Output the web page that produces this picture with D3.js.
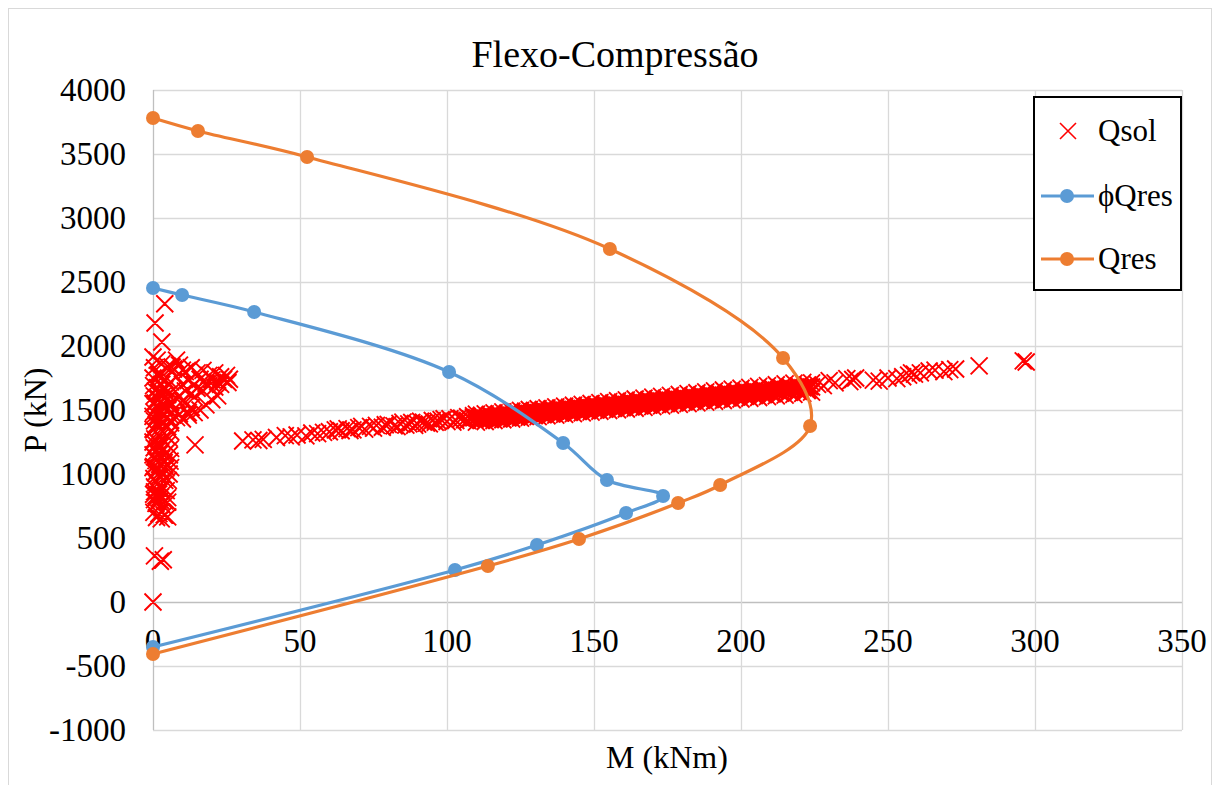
<!DOCTYPE html>
<html>
<head>
<meta charset="utf-8">
<script src="https://cdn.jsdelivr.net/npm/d3@7"></script>
<style>
  body { margin: 0; background: #fff; }
  svg { display: block; font-family: "Liberation Serif", "Times New Roman", serif; }
</style>
</head>
<body>
<div id="graphic"></div>
<script>
// resistance envelope, factored and unfactored (M in kNm, P in kN)
const qresM = [0, 15.3, 52.4, 155.4, 214.3, 223.5, 192.9, 178.6, 144.9, 113.9, 0];
const qresP = [3781, 3680, 3477, 2758, 1906, 1375, 914, 773, 492, 281, -406];
const phiM = [0, 9.9, 34.4, 100.7, 139.5, 154.4, 173.5, 160.9, 130.6, 102.7, 0];
const phiP = [2453, 2398, 2266, 1797, 1242, 953, 828, 695, 445, 250, -352];

// load cases (Qsol) in groups
const qsolLow = [[0, 0], [0.5, 360], [3.5, 330], [2.5, 318], [0.3, 700], [2, 690], [3.8, 680],
  [5, 665], [1.2, 660], [2.8, 650], [0.5, 800], [2.5, 820], [4, 790], [1, 770], [3, 760], [5, 780],
  [3, 880], [0.5, 860], [2, 845], [4.5, 870], [1, 830], [5, 815], [0.2, 842], [2.5, 795]];

const qsolSpine = [[0.5, 900], [2.5, 915], [1, 935], [4, 950], [0.3, 965], [2, 980], [3.5, 995],
  [0.8, 1010], [2.8, 1025], [1.5, 1040], [4.5, 1050], [0.2, 1060], [2.2, 1075], [3.8, 1090],
  [1, 1105], [3, 1120], [0.5, 1135], [2, 1150], [4.2, 1160], [1.2, 1175], [3.2, 1190], [0.4, 1205],
  [2.4, 1220], [4.8, 1230], [1.6, 1245], [3.5, 1260], [0.6, 1275], [2.6, 1290], [4.5, 1300],
  [1.4, 1315], [3.3, 1330], [0.2, 1345], [2.2, 1360], [5, 1370], [1, 1385], [3, 1400], [0.5, 1415],
  [2.5, 1430], [4.5, 1440], [1.5, 1455], [3.5, 1470], [0.3, 1485], [2.3, 1500], [5.2, 1510],
  [1.2, 1525], [3.2, 1540], [0.7, 1555], [2.7, 1570], [4.7, 1580], [1.7, 1595], [0.4, 1610],
  [3.7, 1620], [2, 1635], [0.8, 1650], [4, 1660], [1.5, 1675], [0.2, 1690], [3, 1700],
  [0, 1750], [2, 1780], [0.5, 1830], [1.4, 1890], [0, 1914], [8, 1890], [6.5, 1836], [10, 1812],
  [3, 2031], [0.7, 2180], [4, 2330], [14.3, 1227],
  [5.5, 1000], [5.8, 1100], [6, 1200], [5.5, 1280], [6, 1400], [5.8, 1460], [5.2, 950], [6, 1050],
  [0, 1150], [0, 1250], [0, 1550], [0, 1450], [0, 1050], [0, 1350], [6, 1330], [5.6, 1150]];

const qsolBranch = [[3, 1860], [5, 1840], [7, 1820], [9, 1850], [11, 1800], [13, 1830], [15, 1790],
  [17, 1810], [19, 1770], [21, 1790], [23, 1760], [25, 1770], [26, 1740],
  [2, 1760], [4, 1740], [6, 1720], [8, 1760], [10, 1700], [12, 1730], [14, 1700], [16, 1740],
  [18, 1710], [20, 1735], [22, 1720], [24, 1740], [25.5, 1715],
  [3, 1640], [5, 1620], [7, 1660], [9, 1610], [11, 1650], [13, 1630], [15, 1670], [17, 1650],
  [19, 1690], [21, 1680], [23, 1700], [6, 1560], [8, 1590], [10, 1570], [4, 1520], [7, 1500],
  [9, 1470], [12, 1480], [11, 1560], [14, 1600], [6, 1420], [8, 1440], [10, 1430], [12, 1460],
  [14, 1480], [16, 1500], [13, 1520], [18, 1540], [20, 1580], [22, 1610]];

const qsolBand = [[30.5, 1258], [34, 1266], [36, 1262], [37.5, 1270], [45, 1300], [47, 1290],
  [49, 1305], [52, 1298], [56, 1315], [58, 1325], [60, 1330], [62, 1345], [64, 1338], [66, 1355],
  [70, 1362], [72, 1350], [74, 1372], [76, 1380], [78, 1365], [80, 1388], [82, 1376], [84, 1395],
  [86, 1382], [88, 1402], [90, 1390], [91, 1412], [93, 1398], [95, 1418], [96, 1404], [98, 1425],
  [100, 1410], [101, 1432], [103, 1418], [104, 1440], [106, 1424], [107, 1447], [108, 1430],
  [109, 1455], [42, 1285], [54, 1320], [63, 1352], [67, 1340], [68, 1345], [71, 1372], [75, 1358],
  [79, 1385], [83, 1370], [85, 1405], [87, 1392], [89, 1380], [92, 1405], [94, 1392], [97, 1412],
  [99, 1432], [102, 1405], [105, 1436], [107, 1418], [109, 1440],
  [110, 1405], [110, 1440], [110, 1468], [111.5, 1420], [111.5, 1452], [113, 1410], [113, 1437],
  [113, 1470], [114.5, 1428], [114.5, 1458], [116, 1418], [116, 1446], [116, 1478], [117.5, 1432],
  [117.5, 1463], [119, 1424], [119, 1452], [119, 1485], [120.5, 1440], [120.5, 1470], [122, 1430],
  [122, 1460], [122, 1490], [123.5, 1446], [123.5, 1475], [125, 1436], [125, 1466], [125, 1497],
  [126.5, 1452], [126.5, 1482], [128, 1442], [128, 1473], [128, 1504], [129.5, 1458], [129.5, 1488],
  [131, 1448], [131, 1480], [131, 1510], [132.5, 1464], [132.5, 1494], [134, 1455], [134, 1486],
  [134, 1517], [135.5, 1470], [135.5, 1500], [137, 1460], [137, 1492], [137, 1524], [138.5, 1476],
  [138.5, 1507], [140, 1466], [140, 1499], [140, 1530], [141.5, 1482], [141.5, 1514], [143, 1472],
  [143, 1505], [143, 1537], [144.5, 1489], [144.5, 1520], [146, 1478], [146, 1512], [146, 1544],
  [147.5, 1495], [147.5, 1527], [149, 1484], [149, 1518], [149, 1551], [150.5, 1500], [150.5, 1534],
  [152, 1490], [152, 1524], [152, 1558], [153.5, 1507], [153.5, 1540], [155, 1496], [155, 1531],
  [155, 1565], [156.5, 1513], [156.5, 1547], [158, 1502], [158, 1537], [158, 1572], [159.5, 1519],
  [159.5, 1554], [161, 1508], [161, 1544], [161, 1579], [162.5, 1525], [162.5, 1561], [164, 1514],
  [164, 1550], [164, 1586], [165.5, 1532], [165.5, 1567], [167, 1520], [167, 1557], [167, 1593],
  [168.5, 1538], [168.5, 1574], [170, 1526], [170, 1563], [170, 1600], [171.5, 1544], [171.5, 1581],
  [173, 1532], [173, 1570], [173, 1607], [174.5, 1551], [174.5, 1588], [176, 1538], [176, 1576],
  [176, 1614], [177.5, 1557], [177.5, 1595], [179, 1544], [179, 1583], [179, 1621], [180.5, 1563],
  [180.5, 1601], [182, 1550], [182, 1589], [182, 1628], [183.5, 1569], [183.5, 1608], [185, 1556],
  [185, 1596], [185, 1635], [186.5, 1576], [186.5, 1615], [188, 1562], [188, 1602], [188, 1642],
  [189.5, 1582], [189.5, 1621], [191, 1568], [191, 1609], [191, 1649], [192.5, 1588], [192.5, 1628],
  [194, 1574], [194, 1615], [194, 1656], [195.5, 1595], [195.5, 1635], [197, 1580], [197, 1622],
  [197, 1663], [198.5, 1601], [198.5, 1641], [200, 1586], [200, 1628], [200, 1670], [201.5, 1607],
  [201.5, 1648], [203, 1592], [203, 1635], [203, 1677], [204.5, 1613], [204.5, 1655], [206, 1598],
  [206, 1641], [206, 1684], [207.5, 1620], [207.5, 1661], [209, 1604], [209, 1648], [209, 1690],
  [210.5, 1626], [210.5, 1668], [212, 1610], [212, 1654], [212, 1697], [213.5, 1632], [213.5, 1675],
  [215, 1616], [215, 1661], [215, 1704], [216.5, 1639], [216.5, 1681], [218, 1622], [218, 1667],
  [218, 1710], [219.5, 1645], [219.5, 1688], [221, 1630], [221, 1674], [221, 1716], [222.5, 1652],
  [222.5, 1694], [224, 1640], [224, 1680], [224, 1712]];

const qsolBandFill = [[111.75, 1419], [111.75, 1459], [114.75, 1426], [114.75, 1466],
  [117.75, 1432], [117.75, 1472], [120.75, 1438], [120.75, 1478], [123.75, 1445], [123.75, 1485],
  [126.75, 1451], [126.75, 1491], [129.75, 1457], [129.75, 1497], [132.75, 1464], [132.75, 1504],
  [135.75, 1470], [135.75, 1510], [138.75, 1477], [138.75, 1517], [141.75, 1483], [141.75, 1523],
  [144.75, 1489], [144.75, 1529], [147.75, 1496], [147.75, 1536], [150.75, 1502], [150.75, 1542],
  [153.75, 1508], [153.75, 1548], [156.75, 1515], [156.75, 1555], [159.75, 1521], [159.75, 1561],
  [162.75, 1527], [162.75, 1567], [165.75, 1534], [165.75, 1574], [168.75, 1540], [168.75, 1580],
  [171.75, 1547], [171.75, 1587], [174.75, 1553], [174.75, 1593], [177.75, 1559], [177.75, 1599],
  [180.75, 1566], [180.75, 1606], [183.75, 1572], [183.75, 1612], [186.75, 1578], [186.75, 1618],
  [189.75, 1585], [189.75, 1625], [192.75, 1591], [192.75, 1631], [195.75, 1598], [195.75, 1638],
  [198.75, 1604], [198.75, 1644], [201.75, 1610], [201.75, 1650], [204.75, 1617], [204.75, 1657],
  [207.75, 1623], [207.75, 1663], [210.75, 1629], [210.75, 1669], [213.75, 1636], [213.75, 1676],
  [216.75, 1642], [216.75, 1682], [219.75, 1648], [219.75, 1688], [222.75, 1655], [222.75, 1695]];

const qsolBandCore = [[110.75, 1430], [112.25, 1446], [113.75, 1437], [115.25, 1454], [116.75, 1444],
  [118.25, 1460], [119.75, 1450], [121.25, 1466], [122.75, 1456], [124.25, 1473], [125.75, 1463],
  [127.25, 1479], [128.75, 1469], [130.25, 1486], [131.75, 1476], [133.25, 1492], [134.75, 1482],
  [136.25, 1498], [137.75, 1489], [139.25, 1505], [140.75, 1495], [142.25, 1511], [143.75, 1501],
  [145.25, 1517], [146.75, 1508], [148.25, 1524], [149.75, 1514], [151.25, 1530], [152.75, 1520],
  [154.25, 1537], [155.75, 1527], [157.25, 1543], [158.75, 1533], [160.25, 1549], [161.75, 1540],
  [163.25, 1556], [164.75, 1546], [166.25, 1562], [167.75, 1552], [169.25, 1569], [170.75, 1559],
  [172.25, 1575], [173.75, 1565], [175.25, 1581], [176.75, 1572], [178.25, 1588], [179.75, 1578],
  [181.25, 1594], [182.75, 1584], [184.25, 1600], [185.75, 1591], [187.25, 1607], [188.75, 1597],
  [190.25, 1613], [191.75, 1603], [193.25, 1620], [194.75, 1610], [196.25, 1626], [197.75, 1616],
  [199.25, 1632], [200.75, 1623], [202.25, 1639], [203.75, 1629], [205.25, 1645], [206.75, 1635],
  [208.25, 1652], [209.75, 1642], [211.25, 1658], [212.75, 1648], [214.25, 1664], [215.75, 1655],
  [217.25, 1671], [218.75, 1661], [220.25, 1677], [221.75, 1667], [223.25, 1683]];

const qsolTail = [[226, 1700], [228, 1690], [230, 1730], [232, 1712], [236, 1745], [237, 1722],
  [238, 1738], [239, 1750], [245, 1734], [247, 1725], [250, 1750], [253, 1745], [255, 1760],
  [257, 1772], [258, 1790], [259, 1780], [261, 1790], [264, 1805], [266, 1812], [269, 1800],
  [271, 1815], [273, 1820], [281, 1845], [296, 1884], [297, 1875]];

const xTicks = [0, 50, 100, 150, 200, 250, 300, 350];
const yTicks = [-1000, -500, 0, 500, 1000, 1500, 2000, 2500, 3000, 3500, 4000];

const width = 1219, height = 785;
const blue = '#5B9BD5', orange = '#ED7D31', red = '#FF0000', grid = '#D9D9D9';

const x = d3.scaleLinear().domain([0, 350]).range([153, 1182]);
const y = d3.scaleLinear().domain([-1000, 4000]).range([730, 90]);

const svg = d3.select('#graphic').append('svg')
  .attr('width', width)
  .attr('height', height);

svg.append('rect')
  .attr('x', 8.5).attr('y', 8.5)
  .attr('width', 1203).attr('height', 800)
  .attr('fill', '#fff').attr('stroke', grid);

// gridlines
svg.append('g')
  .selectAll('line')
  .data(yTicks)
  .join('line')
    .attr('x1', x(0)).attr('x2', x(350))
    .attr('y1', d => Math.round(y(d)) + 0.5).attr('y2', d => Math.round(y(d)) + 0.5)
    .attr('stroke', d => d === 0 ? '#BFBFBF' : grid)
    .attr('stroke-width', 1.3);

svg.append('g')
  .selectAll('line')
  .data(xTicks)
  .join('line')
    .attr('y1', y(-1000)).attr('y2', y(4000))
    .attr('x1', d => Math.round(x(d)) + 0.5).attr('x2', d => Math.round(x(d)) + 0.5)
    .attr('stroke', d => d === 0 ? '#BFBFBF' : grid)
    .attr('stroke-width', 1.3);

// tick labels
svg.append('g')
  .attr('font-size', 33)
  .attr('text-anchor', 'end')
  .selectAll('text')
  .data(yTicks)
  .join('text')
    .attr('x', 126)
    .attr('y', d => y(d) + 11)
    .text(d => d);

svg.append('g')
  .attr('font-size', 33)
  .attr('text-anchor', 'middle')
  .selectAll('text')
  .data(xTicks)
  .join('text')
    .attr('x', d => x(d))
    .attr('y', y(0) + 50)
    .text(d => d);

// titles
svg.append('text')
  .attr('x', 615).attr('y', 67)
  .attr('text-anchor', 'middle')
  .attr('font-size', 38)
  .text('Flexo-Compressão');

svg.append('text')
  .attr('x', 667).attr('y', 768)
  .attr('text-anchor', 'middle')
  .attr('font-size', 32)
  .text('M (kNm)');

svg.append('text')
  .attr('transform', 'translate(46,410) rotate(-90)')
  .attr('text-anchor', 'middle')
  .attr('font-size', 32)
  .text('P (kN)');

// Qsol crosses
const qsol = [].concat(qsolLow, qsolSpine, qsolBranch, qsolBand, qsolBandFill, qsolBandCore, qsolTail);
const s = 8.5;
const cross = (cx, cy, r) => `M${cx - r},${cy - r}L${cx + r},${cy + r}M${cx - r},${cy + r}L${cx + r},${cy - r}`;

svg.append('path')
  .attr('fill', 'none')
  .attr('stroke', red)
  .attr('stroke-width', 1.9)
  .attr('d', qsol.map(d => cross(x(d[0]), y(d[1]), s)).join(''));

// envelopes
const line = d3.line()
  .x(d => x(d[0]))
  .y(d => y(d[1]))
  .curve(d3.curveCatmullRom.alpha(0.5));

function envelope(ms, ps, color) {
  const pts = ms.map((m, i) => [m, ps[i]]);
  svg.append('path')
    .datum(pts)
    .attr('fill', 'none')
    .attr('stroke', color)
    .attr('stroke-width', 3.2)
    .attr('d', line);
  svg.append('g')
    .selectAll('circle')
    .data(pts)
    .join('circle')
      .attr('cx', d => x(d[0]))
      .attr('cy', d => y(d[1]))
      .attr('r', 7)
      .attr('fill', color);
}

envelope(phiM, phiP, blue);
envelope(qresM, qresP, orange);

// legend
const lg = svg.append('g');
lg.append('rect')
  .attr('x', 1034).attr('y', 97)
  .attr('width', 147).attr('height', 193)
  .attr('fill', '#fff')
  .attr('stroke', '#000')
  .attr('stroke-width', 2);

const entries = [
  {name: 'Qsol', type: 'x', color: red, yy: 131},
  {name: 'ϕQres', type: 'line', color: blue, yy: 196},
  {name: 'Qres', type: 'line', color: orange, yy: 259}
];

entries.forEach(e => {
  if (e.type === 'x') {
    lg.append('path')
      .attr('d', cross(1068, e.yy, 8))
      .attr('stroke', e.color)
      .attr('stroke-width', 1.6)
      .attr('fill', 'none');
  } else {
    lg.append('line')
      .attr('x1', 1041).attr('x2', 1094)
      .attr('y1', e.yy).attr('y2', e.yy)
      .attr('stroke', e.color)
      .attr('stroke-width', 3.2);
    lg.append('circle')
      .attr('cx', 1067).attr('cy', e.yy)
      .attr('r', 7)
      .attr('fill', e.color);
  }
  lg.append('text')
    .attr('x', 1098).attr('y', e.yy + 10)
    .attr('font-size', 31)
    .text(e.name);
});
</script>
</body>
</html>
